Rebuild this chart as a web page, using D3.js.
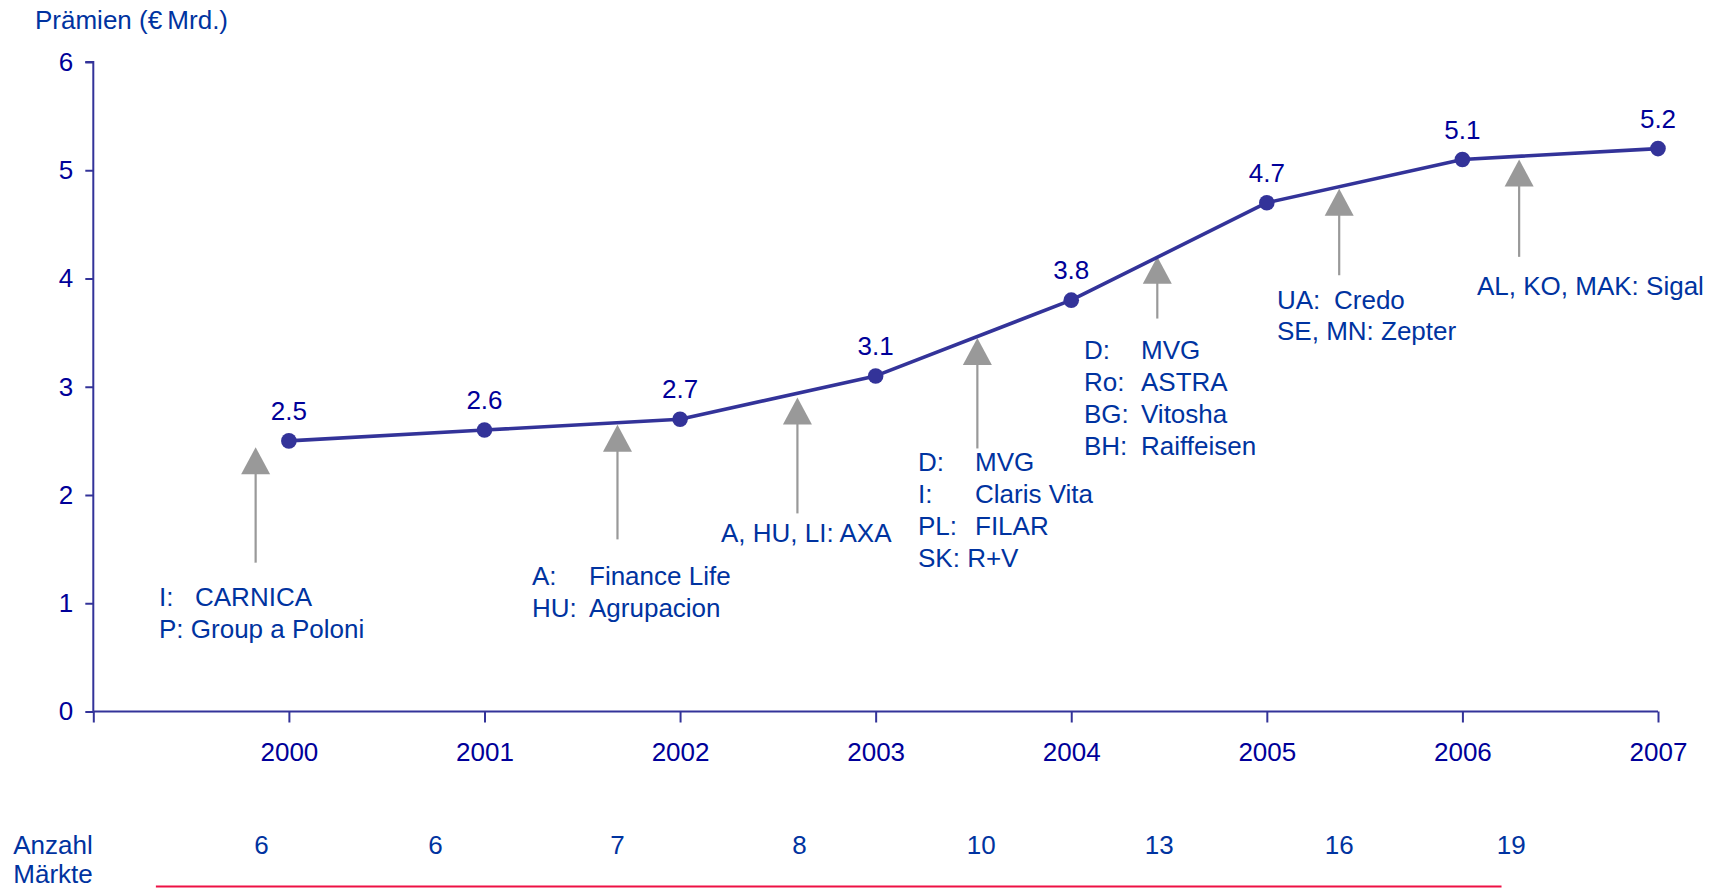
<!DOCTYPE html>
<html>
<head>
<meta charset="utf-8">
<script src="https://cdn.jsdelivr.net/npm/d3@7"></script>
<style>
  html, body { margin: 0; padding: 0; background: #ffffff; }
  svg { display: block; font-family: "Liberation Sans", Arial, sans-serif; }
</style>
</head>
<body>
<svg id="chart" width="1720" height="888"></svg>
<script>
// ---------- data ----------
const years = [2000, 2001, 2002, 2003, 2004, 2005, 2006, 2007];
const premiums = [2.5, 2.6, 2.7, 3.1, 3.8, 4.7, 5.1, 5.2];
const yTicks = [0, 1, 2, 3, 4, 5, 6];
const xTicks = [1999, 2000, 2001, 2002, 2003, 2004, 2005, 2006, 2007];
const yTitle = "Prämien (€\u2009Mrd.)";
const marketLabel = ["Anzahl", "Märkte"];
const marketCounts = [6, 6, 7, 8, 10, 13, 16, 19];
// arrow entry points (year position, tip value, tail value)
const arrowYears = [1999.83, 2001.68, 2002.60, 2003.52, 2004.44, 2005.37, 2006.29];
const arrowTips = [2.44, 2.65, 2.90, 3.45, 4.20, 4.83, 5.10];
const arrowTails = [1.375, 1.59, 1.83, 2.43, 3.63, 4.03, 4.20];
// annotation lines: [country, company] (company null => single run)
const annotations = [
  [["I:", "CARNICA"], ["P: Group a Poloni", null]],
  [["A:", "Finance Life"], ["HU:", "Agrupacion"]],
  [["A, HU, LI: AXA", null]],
  [["D:", "MVG"], ["I:", "Claris Vita"], ["PL:", "FILAR"], ["SK: R+V", null]],
  [["D:", "MVG"], ["Ro:", "ASTRA"], ["BG:", "Vitosha"], ["BH:", "Raiffeisen"]],
  [["UA:", "Credo"], ["SE, MN: Zepter", null]],
  [["AL, KO, MAK: Sigal", null]]
];

// ---------- layout ----------
const annLayout = [
  { x: 159, x2: 195, y: 597 },
  { x: 532, x2: 589, y: 576 },
  { x: 721, x2: 0, y: 533 },
  { x: 918, x2: 975, y: 462 },
  { x: 1084, x2: 1141, y: 350 },
  { x: 1277, x2: 1334, y: 299.5 },
  { x: 1477, x2: 0, y: 286 }
];
const lineStep = 31.8;
const countYears = [1999.86, 2000.75, 2001.68, 2002.61, 2003.54, 2004.45, 2005.37, 2006.25];

const navy = "#333399";
const labelDark = "#000099";
const textBlue = "#0033a0";
const gray = "#999999";
const fs = 26;

const svg = d3.select("#chart");
const x = d3.scaleLinear().domain([1999, 2007]).range([93.3, 1658]);
const y = d3.scaleLinear().domain([0, 6]).range([711.5, 62]);

// Y axis
const yAxis = svg.append("g")
  .attr("transform", `translate(${x(1999)},0)`)
  .call(d3.axisLeft(y).tickValues(yTicks).tickSize(8).tickPadding(12).tickFormat(d3.format("d")));
yAxis.select(".domain").attr("stroke", navy).attr("stroke-width", 2).attr("d", `M-8,${y(6)}H0V${y(0)}`);
yAxis.selectAll(".tick line").attr("stroke", navy).attr("stroke-width", 2);
yAxis.selectAll(".tick text").attr("fill", labelDark).style("font-size", fs + "px")
  .style("font-family", '"Liberation Sans", Arial, sans-serif');

// X axis
const xAxis = svg.append("g")
  .attr("transform", `translate(0,${y(0)})`)
  .call(d3.axisBottom(x).tickValues(xTicks).tickSize(11).tickPadding(20)
    .tickFormat(d => d === 1999 ? "" : String(d)));
xAxis.select(".domain").attr("stroke", navy).attr("stroke-width", 2).attr("d", `M${x(1999)},0H${x(2007)}`);
xAxis.selectAll(".tick line").attr("stroke", navy).attr("stroke-width", 2);
xAxis.selectAll(".tick text").attr("fill", labelDark).style("font-size", fs + "px")
  .style("font-family", '"Liberation Sans", Arial, sans-serif');

// Y title
svg.append("text").attr("x", 35).attr("y", 20).attr("dy", "0.35em")
  .attr("fill", textBlue).style("font-size", "26px").text(yTitle);

// Arrows
const arrows = svg.append("g");
arrowYears.forEach((yr, i) => {
  const ax = x(yr), tip = y(arrowTips[i]), tail = y(arrowTails[i]);
  const hw = 14.5, hh = 27;
  arrows.append("line").attr("x1", ax).attr("x2", ax).attr("y1", tip + hh - 1).attr("y2", tail)
    .attr("stroke", gray).attr("stroke-width", 2.2);
  arrows.append("path")
    .attr("d", `M${ax},${tip}L${ax + hw},${tip + hh}L${ax - hw},${tip + hh}Z`)
    .attr("fill", gray);
});

// Line
const pts = years.map((yr, i) => [x(yr), y(premiums[i])]);
svg.append("path").attr("d", d3.line()(pts)).attr("fill", "none")
  .attr("stroke", navy).attr("stroke-width", 3.6).attr("stroke-linejoin", "round");
svg.append("g").selectAll("circle").data(pts).join("circle")
  .attr("cx", d => d[0]).attr("cy", d => d[1]).attr("r", 7.8).attr("fill", navy);

// Value labels
svg.append("g").selectAll("text").data(years).join("text")
  .attr("x", d => x(d)).attr("y", (d, i) => y(premiums[i]) - 30).attr("dy", "0.35em")
  .attr("text-anchor", "middle").attr("fill", labelDark).style("font-size", fs + "px")
  .text((d, i) => d3.format(".1f")(premiums[i]));

// Annotations
annotations.forEach((lines, k) => {
  const L = annLayout[k];
  lines.forEach((ln, j) => {
    const t = svg.append("text").attr("y", L.y + j * lineStep).attr("dy", "0.35em")
      .attr("fill", textBlue).style("font-size", fs + "px");
    t.append("tspan").attr("x", L.x).text(ln[0]);
    if (ln[1] !== null) t.append("tspan").attr("x", L.x2).text(ln[1]);
  });
});

// Markets row
const mt = svg.append("text").attr("fill", textBlue).style("font-size", fs + "px").attr("text-anchor", "middle");
marketLabel.forEach((s, j) => {
  mt.append("tspan").attr("x", 53).attr("y", 845 + j * 28.5).attr("dy", "0.35em").text(s);
});
svg.append("g").selectAll("text").data(marketCounts).join("text")
  .attr("x", (d, i) => x(countYears[i])).attr("y", 845).attr("dy", "0.35em")
  .attr("text-anchor", "middle").attr("fill", textBlue).style("font-size", fs + "px")
  .text(d => d);
svg.append("line").attr("x1", x(1999.32)).attr("x2", x(2006.2)).attr("y1", 886.5).attr("y2", 886.5)
  .attr("stroke", "#ee1144").attr("stroke-width", 2);
</script>
</body>
</html>
